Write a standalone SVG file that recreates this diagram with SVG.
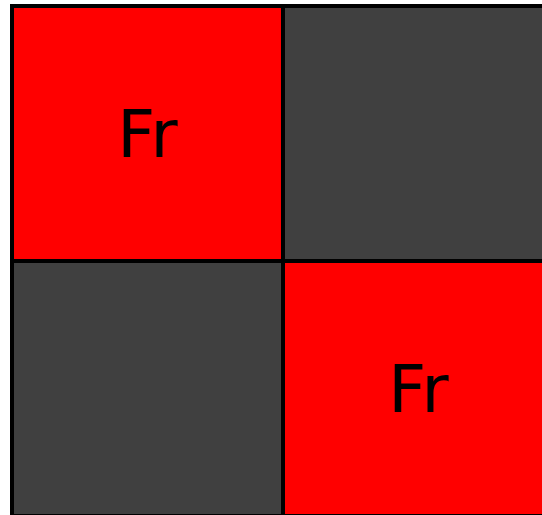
<svg xmlns="http://www.w3.org/2000/svg" width="542" height="515" viewBox="0 0 542 515">
<style>
.cell{stroke:#000;stroke-width:4}
.red{fill:#ff0000}
.dark{fill:#404040}
.lbl{font-family:"DejaVu Sans",sans-serif;font-size:66px;fill:#000;text-anchor:middle}
</style>
<rect width="542" height="515" fill="#fff"/>
<g id="cell-1-1"><rect class="cell red" x="12" y="6" width="271" height="255"/><text class="lbl" x="147.5" y="157">Fr</text></g>
<g id="cell-1-2"><rect class="cell dark" x="283" y="6" width="271" height="255"/></g>
<g id="cell-2-1"><rect class="cell dark" x="12" y="261" width="271" height="255"/></g>
<g id="cell-2-2"><rect class="cell red" x="283" y="261" width="271" height="255"/><text class="lbl" x="418.5" y="412">Fr</text></g>
<g id="connectors"/>
</svg>
